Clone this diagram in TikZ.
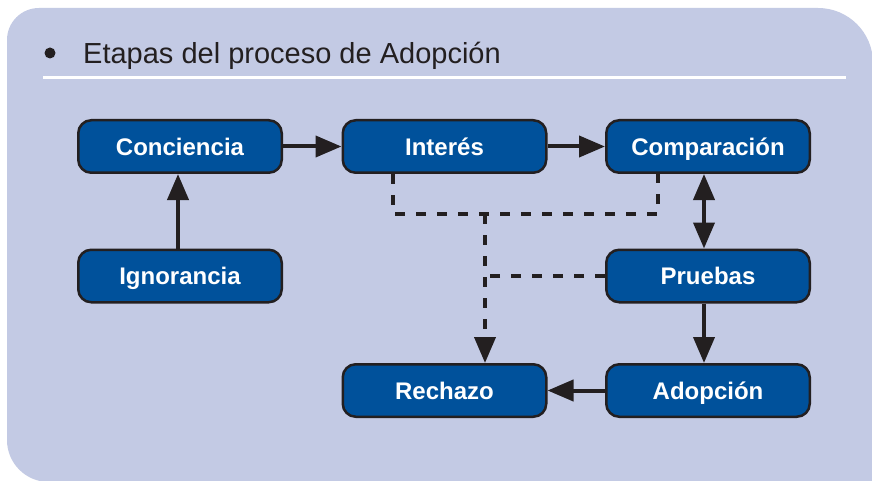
\documentclass[tikz,border=0pt]{standalone}
\usepackage{fontspec}
\setmainfont{Liberation Sans}
\usetikzlibrary{arrows.meta}
\definecolor{bgc}{RGB}{195,202,228}
\definecolor{boxc}{RGB}{0,81,155}
\definecolor{ink}{RGB}{35,31,32}
\begin{document}
\begin{tikzpicture}[x=1pt,y=-1pt,
  stage/.style={draw=ink,line width=2.5pt,fill=boxc,rounded corners=13pt,
    minimum width=203.5pt,minimum height=52.5pt,text=white,inner sep=0pt,
    text height=17.2pt,text depth=0pt,
    font=\fontsize{24}{24}\selectfont\bfseries},
  tip/.tip={Triangle[length=26pt,width=21pt]},
  arr/.style={draw=ink,line width=4pt,-tip},
  dsh/.style={draw=ink,line width=4pt,dash pattern=on 10pt off 11pt}]
\useasboundingbox (0,0) rectangle (872,481);
\fill[white] (0,0) rectangle (872,481);
\fill[bgc] (39,8) -- (818,8) .. controls (848.4,8) and (873,32.6) .. (873,63)
  -- (873,482) -- (49,482) .. controls (25.8,482) and (7,463.2) .. (7,440)
  -- (7,40) .. controls (7,22.3) and (21.3,8) .. (39,8) -- cycle;
\draw[white,line width=3pt] (43,78) -- (846,78);
\node[circle,fill=ink,inner sep=0pt,minimum size=11pt] (bul) at (50,53) {};
\node[anchor=base west,inner sep=0pt,text=ink,font=\fontsize{29}{29}\selectfont]
  (title) at (83,63.3) {Etapas del proceso de Adopción};
\node[stage] (con) at (180,146.5) {Conciencia};
\node[stage] (int) at (444.5,146.5) {Interés};
\node[stage] (cmp) at (708,146.5) {Comparación};
\node[stage] (ign) at (180,276) {Ignorancia};
\node[stage] (pru) at (708,276) {Pruebas};
\node[stage] (rec) at (444.5,390.5) {Rechazo};
\node[stage] (ado) at (708,390.5) {Adopción};
\draw[arr] ([xshift=-2pt]ign.north) -- ([xshift=-2pt]con.south);
\draw[arr] (con) -- (int);
\draw[arr] (int) -- (cmp);
\draw[arr,tip-tip] ([xshift=-4pt]cmp.south) -- ([xshift=-4pt]pru.north);
\draw[arr] ([xshift=-4pt]pru.south) -- ([xshift=-4pt]ado.north);
\draw[arr] (ado) -- (rec);
\coordinate (j) at (485,214);
\draw[dsh] ([xshift=-51.5pt]int.south) |- (j) -| ([xshift=-50pt]cmp.south);
\draw[dsh,-tip] (j) -- (j |- rec.north);
\draw[dsh] (pru.west) -- (pru.west -| j);
\end{tikzpicture}
\end{document}
